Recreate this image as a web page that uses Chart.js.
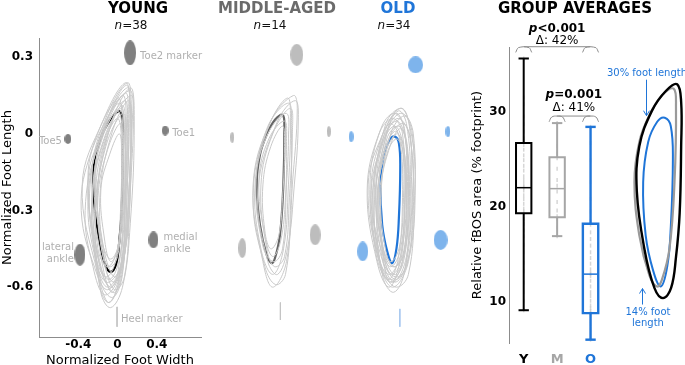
<!DOCTYPE html>
<html><head><meta charset="utf-8">
<script src="https://cdn.jsdelivr.net/npm/chart.js@4.4.1/dist/chart.umd.min.js"></script>
<style>
html,body{margin:0;padding:0;background:#fff}
body{width:685px;height:365px;position:relative;overflow:hidden;font-family:'DejaVu Sans',Verdana,sans-serif}
canvas{position:absolute;top:0}
.h{position:absolute;top:0;font-weight:bold;font-size:15px;line-height:16px;white-space:nowrap;transform:translateX(-50%)}
.n{position:absolute;top:18px;font-size:12px;line-height:14px;white-space:nowrap;transform:translateX(-50%);color:#111}
</style></head><body>
<canvas id="cy" width="215" height="365" style="left:0px"></canvas>
<canvas id="cm" width="215" height="365" style="left:165px"></canvas>
<canvas id="co" width="215" height="365" style="left:283px"></canvas>
<canvas id="cb" width="175" height="365" style="left:440px"></canvas>
<canvas id="cs" width="85" height="365" style="left:600px"></canvas>
<div id="titles"></div>
<script>
// ================= DATA =================
const groupNames = ['YOUNG', 'MIDDLE-AGED', 'OLD'];
const groupN = [38, 14, 34];
const groupLetters = ['Y', 'M', 'O'];
const summaryTitle = 'GROUP AVERAGES';

const footXTicks = [-0.4, 0, 0.4];
const footYTicks = [-0.6, -0.3, 0, 0.3];
const areaTicks = [10, 20, 30];

const markerNames = [['Toe2 marker'], ['Toe1'], ['Toe5'], ['lateral', 'ankle'], ['medial', 'ankle']];
const heelName = 'Heel marker';
const youngMarkerX = [0.128, 0.485, -0.505, -0.383, 0.366];
const youngMarkerY = [0.317, 0.013, -0.02, -0.473, -0.415];
const middleMarkerX = [0.145, 0.471, -0.512, -0.41, 0.332];
const middleMarkerY = [0.309, 0.009, -0.014, -0.447, -0.395];
const oldMarkerX = [0.153, 0.483, -0.503, -0.385, 0.408];
const oldMarkerY = [0.27, 0.009, -0.011, -0.46, -0.415];
const heelX = [-0.005, -0.022, -0.007];
const heelTop = [-0.677, -0.66, -0.685];
const heelBottom = [-0.755, -0.728, -0.755];

const youngMean = [[0.026,0.087],[0.053,0.035],[0.053,-0.095],[0.043,-0.29],[0.018,-0.42],[-0.015,-0.51],[-0.07,-0.54],[-0.128,-0.51],[-0.196,-0.395],[-0.247,-0.226],[-0.23,-0.095],[-0.145,0.009],[-0.049,0.068]];
const middleMean = [[0.002,0.074],[0.018,0.022],[0.008,-0.2],[-0.026,-0.395],[-0.077,-0.486],[-0.111,-0.506],[-0.162,-0.473],[-0.23,-0.356],[-0.263,-0.2],[-0.23,-0.082],[-0.162,-0.004],[-0.077,0.055]];
const oldMean = [[-0.058,-0.011],[-0.017,-0.036],[-0.003,-0.134],[-0.017,-0.33],[-0.041,-0.447],[-0.085,-0.506],[-0.136,-0.46],[-0.187,-0.356],[-0.204,-0.2],[-0.17,-0.082],[-0.109,-0.023]];

const youngLoops = [
 [[0.08,0.20],[0.13,0.10],[0.12,-0.2],[0.06,-0.5],[-0.08,-0.66],[-0.2,-0.55],[-0.36,-0.2],[-0.15,0.05]],
 [[0.12,0.17],[0.16,0.12],[0.14,-0.15],[0.08,-0.45],[-0.02,-0.62],[-0.15,-0.55],[-0.3,-0.15],[-0.08,0.08]],
 [[0.05,0.15],[0.09,0.05],[0.08,-0.25],[0.04,-0.5],[-0.1,-0.6],[-0.22,-0.5],[-0.3,-0.25],[-0.16,0.0]],
 [[0.02,0.12],[0.07,0.02],[0.07,-0.3],[0.03,-0.52],[-0.12,-0.58],[-0.24,-0.45],[-0.28,-0.2],[-0.15,0.02]],
 [[0.1,0.18],[0.12,0.08],[0.1,-0.2],[0.05,-0.55],[-0.05,-0.64],[-0.17,-0.58],[-0.26,-0.25],[-0.1,0.06]],
 [[0.0,0.06],[0.04,-0.02],[0.04,-0.25],[0.0,-0.45],[-0.1,-0.52],[-0.2,-0.45],[-0.22,-0.2],[-0.12,-0.02]],
 [[0.07,0.13],[0.1,0.0],[0.08,-0.28],[0.02,-0.55],[-0.13,-0.63],[-0.25,-0.52],[-0.33,-0.3],[-0.2,-0.05]],
 [[0.14,0.15],[0.15,0.05],[0.11,-0.25],[0.06,-0.5],[-0.04,-0.58],[-0.14,-0.5],[-0.2,-0.2],[-0.05,0.05]],
 [[0.04,0.1],[0.06,-0.05],[0.05,-0.3],[-0.02,-0.5],[-0.12,-0.56],[-0.22,-0.48],[-0.26,-0.25],[-0.14,-0.03]],
 [[0.09,0.19],[0.13,0.1],[0.13,-0.1],[0.1,-0.4],[-0.02,-0.56],[-0.14,-0.45],[-0.22,-0.12],[-0.08,0.08]],
 [[0.0,0.14],[0.05,0.05],[0.06,-0.25],[0.0,-0.55],[-0.1,-0.61],[-0.2,-0.56],[-0.37,-0.3],[-0.26,-0.06]],
 [[0.06,0.08],[0.08,-0.05],[0.06,-0.32],[0.01,-0.58],[-0.09,-0.66],[-0.18,-0.6],[-0.24,-0.35],[-0.12,-0.05]],
 [[0.11,0.13],[0.14,0.02],[0.12,-0.3],[0.07,-0.56],[-0.03,-0.61],[-0.12,-0.52],[-0.18,-0.25],[-0.06,0.0]],
 [[0.03,0.04],[0.05,-0.08],[0.04,-0.3],[0.0,-0.48],[-0.08,-0.52],[-0.16,-0.46],[-0.2,-0.25],[-0.1,-0.06]],
 [[0.02,0.0],[0.04,-0.1],[0.03,-0.3],[0.0,-0.45],[-0.07,-0.5],[-0.13,-0.42],[-0.17,-0.22],[-0.08,-0.08]],
 [[0.08,0.16],[0.11,0.06],[0.1,-0.2],[0.05,-0.48],[-0.06,-0.6],[-0.18,-0.52],[-0.3,-0.18],[-0.12,0.03]],
 [[0.1,0.2],[0.14,0.12],[0.13,-0.1],[0.07,-0.45],[-0.05,-0.62],[-0.16,-0.5],[-0.26,-0.15],[-0.1,0.08]],
 [[0.05,0.11],[0.08,0.0],[0.08,-0.22],[0.03,-0.47],[-0.08,-0.57],[-0.19,-0.5],[-0.25,-0.22],[-0.12,0.0]],
 [[0.13,0.18],[0.17,0.05],[0.13,-0.35],[0.05,-0.6],[-0.07,-0.68],[-0.17,-0.62],[-0.22,-0.3],[-0.08,0.02]],
 [[0.0,0.09],[0.05,0.0],[0.05,-0.2],[0.02,-0.42],[-0.07,-0.49],[-0.16,-0.42],[-0.24,-0.18],[-0.14,0.0]]
];
const middleLoops = [
 [[0.11,0.15],[0.15,0.1],[0.1,-0.2],[0.04,-0.5],[-0.1,-0.6],[-0.2,-0.5],[-0.3,-0.2],[-0.12,0.05]],
 [[0.05,0.14],[0.08,0.05],[0.06,-0.2],[0.01,-0.45],[-0.1,-0.55],[-0.22,-0.45],[-0.28,-0.2],[-0.14,0.03]],
 [[0.08,0.1],[0.1,0.0],[0.07,-0.25],[0.02,-0.48],[-0.08,-0.52],[-0.16,-0.45],[-0.22,-0.2],[-0.1,0.0]],
 [[0.02,0.05],[0.04,-0.03],[0.03,-0.25],[-0.02,-0.42],[-0.1,-0.48],[-0.18,-0.4],[-0.24,-0.18],[-0.14,-0.02]],
 [[0.13,0.13],[0.16,0.05],[0.12,-0.2],[0.05,-0.45],[-0.05,-0.55],[-0.15,-0.5],[-0.25,-0.22],[-0.05,0.05]],
 [[0.0,0.03],[0.02,-0.05],[0.0,-0.25],[-0.04,-0.4],[-0.12,-0.45],[-0.18,-0.38],[-0.2,-0.2],[-0.12,-0.05]],
 [[0.06,0.12],[0.09,0.02],[0.08,-0.3],[0.03,-0.55],[-0.07,-0.59],[-0.18,-0.52],[-0.3,-0.25],[-0.16,0.02]],
 [[0.04,0.08],[0.06,-0.02],[0.04,-0.2],[0.0,-0.45],[-0.09,-0.5],[-0.2,-0.44],[-0.27,-0.18],[-0.15,0.0]]
];
const oldLoops = [
 [[0.0,0.1],[0.1,0.02],[0.15,-0.2],[0.08,-0.5],[-0.08,-0.6],[-0.22,-0.5],[-0.33,-0.2],[-0.18,0.0]],
 [[-0.04,0.05],[0.05,-0.02],[0.08,-0.25],[0.03,-0.5],[-0.1,-0.57],[-0.22,-0.48],[-0.28,-0.22],[-0.18,-0.02]],
 [[0.02,0.08],[0.12,0.0],[0.12,-0.25],[0.05,-0.52],[-0.06,-0.58],[-0.18,-0.5],[-0.25,-0.2],[-0.12,0.03]],
 [[-0.06,0.03],[0.03,-0.05],[0.05,-0.22],[0.0,-0.45],[-0.1,-0.52],[-0.2,-0.45],[-0.3,-0.25],[-0.2,-0.05]],
 [[-0.02,0.09],[0.06,0.04],[0.1,-0.18],[0.06,-0.42],[-0.05,-0.55],[-0.16,-0.48],[-0.22,-0.2],[-0.13,0.02]],
 [[-0.08,0.06],[0.02,0.0],[0.04,-0.3],[-0.02,-0.52],[-0.12,-0.6],[-0.24,-0.5],[-0.34,-0.22],[-0.22,0.0]],
 [[-0.03,0.0],[0.04,-0.08],[0.06,-0.3],[0.02,-0.48],[-0.08,-0.52],[-0.18,-0.45],[-0.24,-0.25],[-0.14,-0.06]],
 [[0.04,0.07],[0.13,0.0],[0.14,-0.28],[0.08,-0.55],[-0.04,-0.6],[-0.15,-0.55],[-0.2,-0.25],[-0.1,0.0]],
 [[-0.05,0.08],[0.04,0.02],[0.07,-0.22],[0.02,-0.5],[-0.1,-0.58],[-0.2,-0.52],[-0.29,-0.28],[-0.18,-0.02]],
 [[0.0,0.02],[0.07,-0.05],[0.08,-0.25],[0.04,-0.46],[-0.06,-0.52],[-0.15,-0.46],[-0.2,-0.22],[-0.1,-0.04]],
 [[-0.1,0.04],[-0.01,-0.02],[0.02,-0.25],[-0.03,-0.5],[-0.13,-0.57],[-0.25,-0.47],[-0.3,-0.2],[-0.2,-0.02]],
 [[0.01,0.1],[0.09,0.03],[0.11,-0.2],[0.06,-0.48],[-0.07,-0.58],[-0.19,-0.53],[-0.27,-0.25],[-0.15,0.04]],
 [[-0.04,-0.02],[0.03,-0.08],[0.04,-0.3],[0.0,-0.5],[-0.09,-0.55],[-0.17,-0.48],[-0.22,-0.28],[-0.14,-0.08]],
 [[-0.02,0.06],[0.1,-0.02],[0.12,-0.32],[0.06,-0.52],[-0.05,-0.56],[-0.18,-0.5],[-0.27,-0.3],[-0.14,0.0]],
 [[0.03,0.04],[0.11,-0.05],[0.13,-0.3],[0.07,-0.5],[-0.05,-0.57],[-0.16,-0.5],[-0.23,-0.25],[-0.12,-0.02]],
 [[-0.07,0.08],[0.03,0.03],[0.06,-0.2],[0.01,-0.46],[-0.12,-0.55],[-0.25,-0.45],[-0.31,-0.18],[-0.2,0.02]],
 [[-0.02,0.03],[0.06,-0.04],[0.09,-0.28],[0.04,-0.54],[-0.07,-0.62],[-0.18,-0.56],[-0.24,-0.3],[-0.14,-0.02]],
 [[-0.05,0.01],[0.02,-0.06],[0.03,-0.25],[-0.01,-0.44],[-0.1,-0.5],[-0.19,-0.43],[-0.25,-0.22],[-0.15,-0.05]]
];

const boxMin = [9.1, 16.9, 6.0];
const boxQ1 = [19.3, 18.9, 8.8];
const boxMedian = [22.0, 21.9, 12.9];
const boxQ3 = [26.7, 25.2, 18.2];
const boxMax = [35.6, 28.8, 28.4];
const youngValues = [35.6,31.5,30.8,29.5,28.7,27.9,27.2,26.9,26.5,26.0,25.4,24.9,24.3,23.8,23.2,22.8,22.4,22.1,22.0,21.7,21.2,20.8,20.3,19.8,19.5,19.3,18.7,18.2,17.5,16.9,16.0,15.2,14.1,13.2,12.0,11.0,10.1,9.1];
const middleValues = [28.8,26.4,25.6,25.1,24.0,22.8,22.2,21.6,20.5,19.6,19.0,18.7,17.8,16.9];
const oldValues = [28.4,26.7,24.9,22.6,20.8,19.5,18.5,18.1,17.3,16.6,15.9,15.2,14.6,14.0,13.4,13.0,12.9,12.7,12.2,11.6,11.0,10.6,10.1,9.6,9.3,9.0,8.8,8.5,8.0,7.6,7.1,6.7,6.3,6.0];

const bracketFrom = [1, 2];
const bracketTo = [3, 3];
const bracketLevel = [36.84, 29.54];
const bracketP = ['<0.001', '=0.001'];
const bracketDelta = ['\u0394: 42%', '\u0394: 41%'];
const noteLines = [['30% foot length'], ['14% foot', 'length']];
const noteX = [-0.185, -0.212];

// ================= STYLE =================
const F = "'DejaVu Sans', Verdana, sans-serif";
Chart.defaults.font.family = F;
const groupColors = ['#000000', '#a6a6a6', '#1f75d8'];
const titleColors = ['#000000', '#6b6b6b', '#1f75d8'];
const meanColors = ['#000000', '#666666', '#1f75d8'];
const markerColors = ['#808080', '#bdbdbd', '#7eb4ec'];
const heelColors = ['#c4c4c4', '#c4c4c4', '#a9c8ef'];
const titleCenters = [138, 277, 398];
const nCenters = [131, 270, 394];
const youngMarkerSize = [[12,25],[7,10],[7,10],[11,22],[10,17]];
const middleMarkerSize = [[13,22],[4,11],[4,11],[8,20],[11,21]];
const oldMarkerSize = [[15,17],[5,11],[5,11],[11,20],[14,20]];
const labelOffsets = [[10,4,'left'],[7,3,'left'],[-6,2,'right'],[-6,-7,'right'],[10,-2,'left']];

// smooth closed loops: mark line elements as full loops so Chart.js closes them without a kink
Chart.register({id:'closeLoops', beforeDatasetsDraw(chart){
  chart.data.datasets.forEach((d,i)=>{
    if(!d.closedLoop) return;
    const line = chart.getDatasetMeta(i).dataset;
    if(!line) return;
    line._loop = true; line._fullLoop = true; line._pointsUpdated = false; line._path = undefined; line._segments = undefined;
    line.updateControlPoints(chart.chartArea, 'x');
  });
}});

// titles
(function(){
  const t = document.getElementById('titles');
  groupNames.forEach((g,i)=>{
    const d = document.createElement('div'); d.className='h'; d.style.left=titleCenters[i]+'px'; d.style.color=titleColors[i]; d.textContent=g; t.appendChild(d);
    const n = document.createElement('div'); n.className='n'; n.style.left=nCenters[i]+'px';
    n.innerHTML = '<i>n</i>=' + groupN[i]; t.appendChild(n);
  });
  const s = document.createElement('div'); s.className='h'; s.style.left='575px'; s.style.color='#000'; s.textContent=summaryTitle; t.appendChild(s);
})();

function ring(pairs){ return pairs.map(p=>({x:p[0],y:p[1]})); }
function ellipseImg(w,h,color){ const c=document.createElement('canvas'); c.width=w; c.height=h; const g=c.getContext('2d'); g.fillStyle=color; g.beginPath(); g.ellipse(w/2,h/2,w/2,h/2,0,0,Math.PI*2); g.fill(); return c; }
function fmt(v){ return v===0 ? '0' : v.toFixed(1); }
function loopDs(pairs,color,width){ return {data: ring(pairs), closedLoop:true, showLine:true, borderColor:color, borderWidth:width, pointRadius:0, pointHoverRadius:0, tension:0.4, clip:false}; }

const FXMIN=-0.8, FXMAX=0.85, FYMIN=-0.795, FYMAX=0.375;

function footChart(id, gi, loops, mean, mx, my, msize, showAxes){
  const ds = [];
  loops.forEach(l => ds.push(loopDs(l,'#c9c9c9',1)));
  ds.push(loopDs(mean, meanColors[gi], 2.2));
  ds.push({data:[{x:heelX[gi],y:heelTop[gi]},{x:heelX[gi],y:heelBottom[gi]}], showLine:true, borderColor:heelColors[gi], borderWidth:1, pointRadius:0, pointHoverRadius:0, clip:false});
  ds.push({data: mx.map((x,i)=>({x, y:my[i]})), showLine:false, pointStyle: msize.map(s=>ellipseImg(s[0],s[1],markerColors[gi])), pointRadius:4, clip:false});
  let scales, padding;
  if (showAxes){
    scales = {
      x:{type:'linear',min:FXMIN,max:FXMAX,
        afterBuildTicks:s=>{s.ticks=footXTicks.map(v=>({value:v}));},
        afterFit:s=>{s.height=28;},
        grid:{display:false,drawTicks:false},
        border:{display:true,color:'#8c8c8c',width:1},
        ticks:{padding:1,color:'#000',font:{size:12,weight:'bold'},maxRotation:0,autoSkip:false,callback:v=>fmt(v)},
        title:{display:true,text:'Normalized Foot Width',color:'#000',font:{size:13},padding:{top:0,bottom:-3}}},
      y:{type:'linear',min:FYMIN,max:FYMAX,
        afterBuildTicks:s=>{s.ticks=footYTicks.map(v=>({value:v}));},
        afterFit:s=>{s.width=39;},
        grid:{display:false,drawTicks:false},
        border:{display:true,color:'#8c8c8c',width:1},
        ticks:{padding:6,color:'#000',font:{size:12,weight:'bold'},autoSkip:false,callback:v=>fmt(v)},
        title:{display:true,text:'Normalized Foot Length',color:'#000',font:{size:13},padding:{top:0,bottom:0}}}
    };
    padding = {top:38,right:14,left:0,bottom:0};
  } else {
    scales = {x:{type:'linear',display:false,min:FXMIN,max:FXMAX}, y:{type:'linear',display:false,min:FYMIN,max:FYMAX}};
    padding = {top:38,right:14,left:39,bottom:28};
  }
  const plugins = [];
  if (showAxes){
    plugins.push({id:'footLabels', afterDatasetsDraw(chart){
      const ctx=chart.ctx, xs=chart.scales.x, ys=chart.scales.y;
      ctx.save(); ctx.font='10px '+F; ctx.fillStyle='#b0b0b0'; ctx.textBaseline='middle';
      markerNames.forEach((lines,i)=>{
        const px=xs.getPixelForValue(mx[i]), py=ys.getPixelForValue(my[i]);
        const o=labelOffsets[i]; ctx.textAlign=o[2];
        lines.forEach((ln,k)=>ctx.fillText(ln, px+o[0], py+o[1]+k*12));
      });
      ctx.textAlign='left';
      ctx.fillText(heelName, xs.getPixelForValue(heelX[gi])+4, ys.getPixelForValue(heelBottom[gi])-7);
      ctx.restore();
    }});
  }
  return new Chart(document.getElementById(id), {
    type:'scatter', data:{datasets:ds},
    options:{responsive:false, animation:false, events:[], layout:{padding},
      plugins:{legend:{display:false}, tooltip:{enabled:false}}, scales},
    plugins
  });
}

footChart('cy', 0, youngLoops, youngMean, youngMarkerX, youngMarkerY, youngMarkerSize, true);
footChart('cm', 1, middleLoops, middleMean, middleMarkerX, middleMarkerY, middleMarkerSize, false);
footChart('co', 2, oldLoops, oldMean, oldMarkerX, oldMarkerY, oldMarkerSize, false);

// ================= BOX PLOT =================
const BW = 0.23, CW = 0.155;
const groupValues = [youngValues, middleValues, oldValues];
function seg(a,b,color,w){ return {data:[a,b], showLine:true, borderColor:color, borderWidth:w, pointRadius:0, pointHoverRadius:0, clip:false}; }
const boxDs = [];
groupLetters.forEach((g,i)=>{
  const x=i+1, c=groupColors[i], w = i===2 ? 2.4 : 2;
  boxDs.push(seg({x,y:boxMin[i]},{x,y:boxQ1[i]},c,w));
  boxDs.push(seg({x,y:boxQ3[i]},{x,y:boxMax[i]},c,w));
  boxDs.push(seg({x:x-CW,y:boxMin[i]},{x:x+CW,y:boxMin[i]},c,w));
  boxDs.push(seg({x:x-CW,y:boxMax[i]},{x:x+CW,y:boxMax[i]},c,w));
  boxDs.push({data:[{x:x-BW,y:boxQ1[i]},{x:x+BW,y:boxQ1[i]},{x:x+BW,y:boxQ3[i]},{x:x-BW,y:boxQ3[i]}], closedLoop:true, showLine:true, borderColor:c, borderWidth:w, borderJoinStyle:'miter', pointRadius:0, pointHoverRadius:0, clip:false});
  boxDs.push(seg({x:x-BW,y:boxMedian[i]},{x:x+BW,y:boxMedian[i]},c,1.5));
  boxDs.push({data: groupValues[i].map(v=>({x,y:v})), showLine:false, pointStyle:'line', pointRotation:90, pointRadius:2, pointBorderColor:'rgba(200,200,200,0.75)', pointBorderWidth:1.5, clip:false});
});
bracketFrom.forEach((f,i)=>{
  const t=bracketTo[i], y=bracketLevel[i], col='#8c8c8c';
  boxDs.push(seg({x:f,y},{x:t,y},col,1));
  [f,t].forEach(cx=>{
    boxDs.push({data:[{x:cx-0.24,y:y-0.6},{x:cx-0.16,y:y-0.1},{x:cx,y:y},{x:cx+0.16,y:y-0.1},{x:cx+0.24,y:y-0.6}], showLine:true, borderColor:col, borderWidth:1, tension:0.4, pointRadius:0, pointHoverRadius:0, clip:false});
  });
});
const bracketTextDy = [[-18,-5.5],[-21,-8.5]];
const bracketPlugin = {id:'bt', afterDatasetsDraw(chart){
  const {ctx, scales:{x,y}} = chart;
  ctx.save(); ctx.fillStyle='#000'; ctx.textBaseline='middle';
  bracketP.forEach((p,i)=>{
    const cx=(x.getPixelForValue(bracketFrom[i])+x.getPixelForValue(bracketTo[i]))/2;
    const by=y.getPixelForValue(bracketLevel[i]);
    const f1='italic bold 12px '+F, f2='bold 12px '+F;
    ctx.font=f1; const w1=ctx.measureText('p').width; ctx.font=f2; const w2=ctx.measureText(p).width;
    const sx=cx-(w1+w2)/2; ctx.textAlign='left';
    ctx.font=f1; ctx.fillText('p',sx,by+bracketTextDy[i][0]);
    ctx.font=f2; ctx.fillText(p,sx+w1,by+bracketTextDy[i][0]);
    ctx.font='12px '+F; ctx.textAlign='center'; ctx.fillText(bracketDelta[i],cx,by+bracketTextDy[i][1]);
  });
  ctx.restore();
}};
new Chart(document.getElementById('cb'), {
  type:'scatter', data:{datasets:boxDs},
  options:{responsive:false, animation:false, events:[], layout:{padding:{top:47,left:0,right:0,bottom:0}},
    plugins:{legend:{display:false}, tooltip:{enabled:false}},
    scales:{
      x:{type:'linear',min:0.56,max:3.567,
        afterBuildTicks:s=>{s.ticks=groupLetters.map((g,i)=>({value:i+1}));},
        afterFit:s=>{s.height=22;},
        grid:{display:false,drawTicks:false}, border:{display:false},
        ticks:{padding:9,font:{size:13,weight:'bold'},color:c=>groupColors[c.index],callback:(v,i)=>groupLetters[i],autoSkip:false,maxRotation:0}},
      y:{type:'linear',min:5.65,max:36.81,
        afterBuildTicks:s=>{s.ticks=areaTicks.map(v=>({value:v}));},
        afterFit:s=>{s.width=69;},
        grid:{display:false,drawTicks:false}, border:{display:true,color:'#8c8c8c',width:1},
        ticks:{padding:3,color:'#000',font:{size:12,weight:'bold'}},
        title:{display:true,text:'Relative fBOS area (% footprint)',color:'#000',font:{size:13},padding:{top:30}}}
    }},
  plugins:[bracketPlugin]
});

// ================= SCHEMATIC (group averages overlaid) =================
const schemDs = [
  loopDs(youngMean, meanColors[0], 2.4),
  loopDs(middleMean, '#9a9a9a', 2.2),
  loopDs(oldMean, meanColors[2], 2)
];
const oldTop = Math.max(...oldMean.map(p=>p[1]));
const oldBottom = Math.min(...oldMean.map(p=>p[1]));
const notePlugin = {id:'notes', afterDatasetsDraw(chart){
  const {ctx, scales:{x,y}} = chart;
  ctx.save(); ctx.strokeStyle='#1f75d8'; ctx.fillStyle='#1f75d8'; ctx.lineWidth=1; ctx.font='10px '+F; ctx.textAlign='center'; ctx.textBaseline='middle';
  let ax=Math.round(x.getPixelForValue(noteX[0]))+0.5, tip=y.getPixelForValue(oldTop)-2, tail=tip-36;
  ctx.beginPath(); ctx.moveTo(ax,tail); ctx.lineTo(ax,tip); ctx.moveTo(ax-3,tip-5); ctx.lineTo(ax,tip); ctx.lineTo(ax+3,tip-5); ctx.stroke();
  ctx.fillText(noteLines[0][0], x.getPixelForValue(noteX[0])+1, tail-6);
  ax=Math.round(x.getPixelForValue(noteX[1]))+0.5; tip=y.getPixelForValue(oldBottom)+2; tail=tip+16;
  ctx.beginPath(); ctx.moveTo(ax,tail); ctx.lineTo(ax,tip); ctx.moveTo(ax-3,tip+5); ctx.lineTo(ax,tip); ctx.lineTo(ax+3,tip+5); ctx.stroke();
  noteLines[1].forEach((ln,k)=>ctx.fillText(ln, x.getPixelForValue(noteX[1])+6, tail+8+k*11));
  ctx.restore();
}};
new Chart(document.getElementById('cs'), {
  type:'scatter', data:{datasets:schemDs},
  options:{responsive:false, animation:false, events:[], layout:{padding:0},
    plugins:{legend:{display:false}, tooltip:{enabled:false}},
    scales:{x:{type:'linear',display:false,min:-0.496,max:0.079}, y:{type:'linear',display:false,min:-0.736,max:0.334}}},
  plugins:[notePlugin]
});
</script>
</body></html>
